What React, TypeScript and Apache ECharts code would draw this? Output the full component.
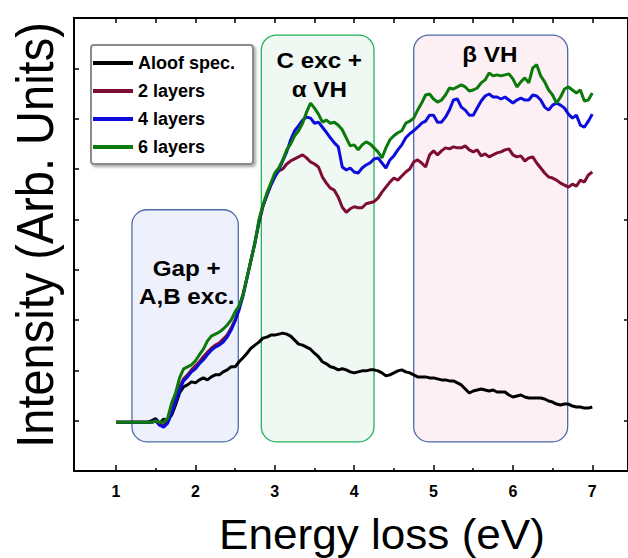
import React, { useEffect, useRef } from "react";
import * as echarts from "echarts";

// Energy loss grid (eV)
const energy = [
  1.0, 1.05, 1.1, 1.15, 1.2, 1.25, 1.3, 1.35, 1.4, 1.45,
  1.5, 1.55, 1.6, 1.65, 1.7, 1.75, 1.8, 1.85, 1.9, 1.95,
  2.0, 2.05, 2.1, 2.15, 2.2, 2.25, 2.3, 2.35, 2.4, 2.45,
  2.5, 2.55, 2.6, 2.65, 2.7, 2.75, 2.8, 2.85, 2.9, 2.95,
  3.0, 3.05, 3.1, 3.15, 3.2, 3.25, 3.3, 3.35, 3.4, 3.45,
  3.5, 3.55, 3.6, 3.65, 3.7, 3.75, 3.8, 3.85, 3.9, 3.95,
  4.0, 4.05, 4.1, 4.15, 4.2, 4.25, 4.3, 4.35, 4.4, 4.45,
  4.5, 4.55, 4.6, 4.65, 4.7, 4.75, 4.8, 4.85, 4.9, 4.95,
  5.0, 5.05, 5.1, 5.15, 5.2, 5.25, 5.3, 5.35, 5.4, 5.45,
  5.5, 5.55, 5.6, 5.65, 5.7, 5.75, 5.8, 5.85, 5.9, 5.95,
  6.0, 6.05, 6.1, 6.15, 6.2, 6.25, 6.3, 6.35, 6.4, 6.45,
  6.5, 6.55, 6.6, 6.65, 6.7, 6.75, 6.8, 6.85, 6.9, 6.95,
  7.0,
];

const aloof = [
  0.97, 0.97, 0.97, 0.97, 0.97, 0.97, 0.97, 0.97, 0.97, 1.0,
  1.04, 0.95, 1.03, 1.01, 1.11, 1.31, 1.55, 1.67, 1.71, 1.77,
  1.75, 1.81, 1.85, 1.81, 1.87, 1.91, 1.91, 1.97, 2.01, 2.07,
  2.07, 2.17, 2.25, 2.34, 2.44, 2.5, 2.56, 2.64, 2.66, 2.7,
  2.7, 2.72, 2.74, 2.72, 2.68, 2.6, 2.52, 2.5, 2.46, 2.42,
  2.34, 2.27, 2.17, 2.13, 2.07, 2.05, 2.01, 2.03, 2.01, 1.97,
  1.95, 1.97, 1.99, 1.99, 2.01, 2.01, 1.99, 1.95, 1.89, 1.91,
  1.95, 1.99, 2.01, 1.97, 1.95, 1.91, 1.87, 1.87, 1.87, 1.85,
  1.85, 1.83, 1.81, 1.81, 1.79, 1.79, 1.75, 1.71, 1.63, 1.55,
  1.59, 1.61, 1.63, 1.61, 1.59, 1.61, 1.57, 1.57, 1.57, 1.51,
  1.47, 1.49, 1.51, 1.47, 1.45, 1.45, 1.45, 1.45, 1.43, 1.39,
  1.37, 1.33, 1.31, 1.33, 1.33, 1.29, 1.27, 1.27, 1.25, 1.25,
  1.27,
];

const layers2 = [
  0.97, 0.97, 0.97, 0.97, 0.97, 0.97, 0.97, 0.97, 0.97, 0.97,
  0.99, 0.91, 0.91, 0.99, 1.21, 1.45, 1.67, 1.83, 1.91, 2.01,
  2.09, 2.17, 2.27, 2.36, 2.44, 2.5, 2.54, 2.62, 2.7, 2.84,
  3.0, 3.24, 3.52, 3.85, 4.19, 4.55, 4.93, 5.25, 5.48, 5.68,
  5.86, 5.96, 6.0, 6.1, 6.16, 6.2, 6.24, 6.28, 6.22, 6.14,
  6.1, 6.04, 5.84, 5.72, 5.62, 5.58, 5.44, 5.24, 5.14, 5.21,
  5.25, 5.23, 5.23, 5.31, 5.33, 5.35, 5.42, 5.54, 5.64, 5.74,
  5.82, 5.78, 5.86, 5.94, 6.0, 6.14, 6.18, 6.12, 6.04, 6.28,
  6.36, 6.28, 6.36, 6.42, 6.4, 6.44, 6.42, 6.42, 6.46, 6.38,
  6.34, 6.38, 6.26, 6.3, 6.24, 6.28, 6.32, 6.34, 6.38, 6.4,
  6.28, 6.24, 6.26, 6.16, 6.22, 6.24, 6.12, 6.02, 5.92, 5.84,
  5.82, 5.78, 5.72, 5.68, 5.64, 5.7, 5.66, 5.78, 5.74, 5.88,
  5.94,
];

const layers4 = [
  0.97, 0.97, 0.97, 0.97, 0.97, 0.97, 0.97, 0.97, 0.97, 0.97,
  1.01, 0.91, 0.87, 0.95, 1.15, 1.37, 1.61, 1.79, 1.87, 1.97,
  2.03, 2.13, 2.21, 2.31, 2.4, 2.46, 2.5, 2.56, 2.66, 2.8,
  2.98, 3.2, 3.48, 3.83, 4.19, 4.53, 4.95, 5.27, 5.48, 5.68,
  5.84, 5.98, 6.16, 6.34, 6.58, 6.76, 6.86, 6.97, 7.03, 7.01,
  6.91, 6.93, 6.83, 6.73, 6.62, 6.52, 6.44, 6.04, 5.98, 6.02,
  5.94, 5.92, 6.02, 6.08, 6.12, 6.2, 6.22, 6.12, 6.02, 6.18,
  6.26, 6.38, 6.48, 6.62, 6.7, 6.76, 6.83, 6.91, 6.95, 7.07,
  7.07, 6.93, 6.93, 7.03, 7.17, 7.37, 7.39, 7.23, 7.17, 7.07,
  7.07, 7.21, 7.35, 7.45, 7.49, 7.43, 7.43, 7.39, 7.43, 7.37,
  7.31, 7.37, 7.41, 7.37, 7.37, 7.47, 7.45, 7.37, 7.23, 7.17,
  7.27, 7.31, 7.27, 7.21, 7.09, 7.01, 7.07, 6.87, 6.83, 6.95,
  7.09,
];

const layers6 = [
  0.97, 0.97, 0.97, 0.97, 0.97, 0.97, 0.97, 0.97, 0.97, 0.97,
  0.99, 0.97, 0.97, 1.05, 1.35, 1.55, 1.85, 2.03, 2.07, 2.11,
  2.19, 2.31, 2.42, 2.58, 2.68, 2.72, 2.76, 2.82, 2.9, 3.0,
  3.16, 3.28, 3.5, 3.85, 4.19, 4.53, 4.99, 5.28, 5.52, 5.72,
  5.92, 6.02, 6.18, 6.38, 6.5, 6.66, 6.76, 6.91, 7.13, 7.31,
  7.21, 7.09, 6.93, 6.97, 6.91, 6.93, 6.87, 6.78, 6.62, 6.46,
  6.48, 6.38, 6.48, 6.54, 6.5, 6.42, 6.34, 6.22, 6.42, 6.58,
  6.66, 6.72, 6.76, 6.91, 6.95, 7.01, 7.17, 7.31, 7.47, 7.49,
  7.39, 7.33, 7.37, 7.47, 7.61, 7.59, 7.63, 7.67, 7.63, 7.55,
  7.57, 7.61, 7.71, 7.77, 7.91, 7.85, 7.87, 7.85, 7.87, 7.89,
  7.79, 7.63, 7.73, 7.81, 7.71, 8.01, 8.07, 7.85, 7.73, 7.57,
  7.47, 7.31, 7.43, 7.59, 7.63, 7.57, 7.51, 7.57, 7.35, 7.37,
  7.51,
];

const seriesNames = ["Aloof spec.", "2 layers", "4 layers", "6 layers"];
const seriesValues = [aloof, layers2, layers4, layers6];
const seriesColors = ["#000000", "#7e0d32", "#0c0cdc", "#0b7a0b"];

const xMajorTicks = [1, 2, 3, 4, 5, 6, 7];
const xMinorTicks = [1.5, 2.5, 3.5, 4.5, 5.5, 6.5];
const xTopTicks = [1, 1.5, 2, 2.5, 3, 3.5, 4, 4.5, 5, 5.5, 6, 6.5, 7];
const yRightTicks = [1, 3, 5, 7];

// Highlighted regions (data coordinates)
const regions = [
  { x0: 1.2, x1: 2.54, y0: 0.58, y1: 5.19, stroke: "#4d6ba6", fill: "#eef1fc" },
  { x0: 2.83, x1: 4.25, y0: 0.58, y1: 8.66, stroke: "#22b25a", fill: "#eff8f3" },
  { x0: 4.75, x1: 6.69, y0: 0.58, y1: 8.66, stroke: "#4d6ba6", fill: "#fcf0f4" },
];
const regionNotes = [
  { text: "Gap +", x: 1.89, y: 4.03 },
  { text: "A,B exc.", x: 1.89, y: 3.47 },
  { text: "C exc +", x: 3.56, y: 8.15 },
  { text: "α VH", x: 3.56, y: 7.58 },
  { text: "β VH", x: 5.71, y: 8.27 },
];

const FONT = '"Liberation Sans", Arial, sans-serif';

export default function App() {
  const ref = useRef<HTMLDivElement>(null);
  useEffect(() => {
    const chart = echarts.init(ref.current as HTMLDivElement, null, { renderer: "svg" });
    const xMin = 0.47;
    const xMax = 7.45;
    const hiddenLabel = { show: false };
    const option: any = {
      animation: false,
      textStyle: { fontFamily: FONT },
      grid: { left: 74, right: -2, top: 18, bottom: 87 },
      legend: {
        orient: "vertical",
        left: 91,
        top: 45,
        data: seriesNames,
        icon: "rect",
        itemWidth: 40,
        itemHeight: 4,
        itemGap: 10,
        padding: [9, 18, 8, 2],
        backgroundColor: "#ffffff",
        borderColor: "#8c8c8c",
        borderWidth: 2,
        borderRadius: 3,
        shadowColor: "rgba(0,0,0,0.35)",
        shadowBlur: 3,
        shadowOffsetX: 2,
        shadowOffsetY: 2,
        textStyle: { fontSize: 18, fontWeight: "bold", color: "#000", fontFamily: FONT },
        selectedMode: false,
      },
      xAxis: [
        {
          type: "value",
          position: "bottom",
          min: xMin,
          max: xMax,
          axisLine: { lineStyle: { color: "#000", width: 2 } },
          axisTick: { inside: true, length: 6, customValues: xMajorTicks, lineStyle: { color: "#000", width: 1.5 } },
          axisLabel: { customValues: xMajorTicks, fontSize: 16, fontWeight: "bold", color: "#000", margin: 12, fontFamily: FONT },
          splitLine: { show: false },
        },
        {
          type: "value",
          position: "bottom",
          min: xMin,
          max: xMax,
          axisLine: { show: false },
          axisTick: { inside: true, length: 3, customValues: xMinorTicks, lineStyle: { color: "#000", width: 1.5 } },
          axisLabel: { ...hiddenLabel, customValues: xMinorTicks },
          splitLine: { show: false },
        },
        {
          type: "value",
          position: "top",
          min: xMin,
          max: xMax,
          axisLine: { lineStyle: { color: "#000", width: 2 } },
          axisTick: { inside: true, length: 5, customValues: xTopTicks, lineStyle: { color: "#000", width: 1.5 } },
          axisLabel: { ...hiddenLabel, customValues: xTopTicks },
          splitLine: { show: false },
        },
      ],
      yAxis: [
        {
          type: "value",
          position: "left",
          min: 0,
          max: 9,
          interval: 1,
          axisLine: { show: true, lineStyle: { color: "#000", width: 2 } },
          axisTick: { show: true, inside: true, length: 5, lineStyle: { color: "#000", width: 1.5 } },
          axisLabel: hiddenLabel,
          splitLine: { show: false },
        },
        {
          type: "value",
          position: "right",
          min: 0,
          max: 9,
          axisLine: { show: true, lineStyle: { color: "#000", width: 2 } },
          axisTick: { show: true, inside: true, length: 4, customValues: yRightTicks, lineStyle: { color: "#000", width: 1.5 } },
          axisLabel: { ...hiddenLabel, customValues: yRightTicks },
          splitLine: { show: false },
        },
      ],
      series: seriesNames.map((name, i) => ({
        name,
        type: "line",
        xAxisIndex: 0,
        yAxisIndex: 0,
        data: energy.map((e, j) => [e, seriesValues[i][j]]),
        showSymbol: false,
        symbol: "none",
        color: seriesColors[i],
        lineStyle: { color: seriesColors[i], width: 3 },
        z: 3 + i,
      })),
    };
    chart.setOption(option);

    const toPx = (x: number, y: number) =>
      chart.convertToPixel({ xAxisIndex: 0, yAxisIndex: 0 }, [x, y]) as number[];
    const graphics: any[] = [];
    regions.forEach((r) => {
      const p0 = toPx(r.x0, r.y1);
      const p1 = toPx(r.x1, r.y0);
      graphics.push({
        type: "rect",
        silent: true,
        z: 1,
        shape: { x: p0[0], y: p0[1], width: p1[0] - p0[0], height: p1[1] - p0[1], r: 15 },
        style: { fill: r.fill, stroke: r.stroke, lineWidth: 1.3 },
      });
    });
    regionNotes.forEach((n) => {
      const p = toPx(n.x, n.y);
      graphics.push({
        type: "text",
        silent: true,
        z: 2,
        x: p[0],
        y: p[1],
        scaleX: 1.1,
        style: {
          text: n.text,
          fill: "#000",
          font: `bold 22px ${FONT}`,
          textAlign: "center",
          textVerticalAlign: "middle",
          verticalAlign: "middle",
        },
      });
    });
    graphics.push({
      type: "text",
      silent: true,
      x: 382,
      y: 534,
      scaleX: 1.05,
      style: {
        text: "Energy loss (eV)",
        fill: "#000",
        font: `42px ${FONT}`,
        textAlign: "center",
        textVerticalAlign: "middle",
        verticalAlign: "middle",
      },
    });
    graphics.push({
      type: "text",
      silent: true,
      x: 35,
      y: 235,
      rotation: Math.PI / 2,
      scaleY: 1.1,
      style: {
        text: "Intensity (Arb. Units)",
        fill: "#000",
        font: `47px ${FONT}`,
        textAlign: "center",
        textVerticalAlign: "middle",
        verticalAlign: "middle",
      },
    });
    chart.setOption({ graphic: graphics });
    return () => chart.dispose();
  }, []);
  return (
    <div
      ref={ref}
      style={{ position: "absolute", left: 0, top: 0, width: 628, height: 558 }}
    />
  );
}
